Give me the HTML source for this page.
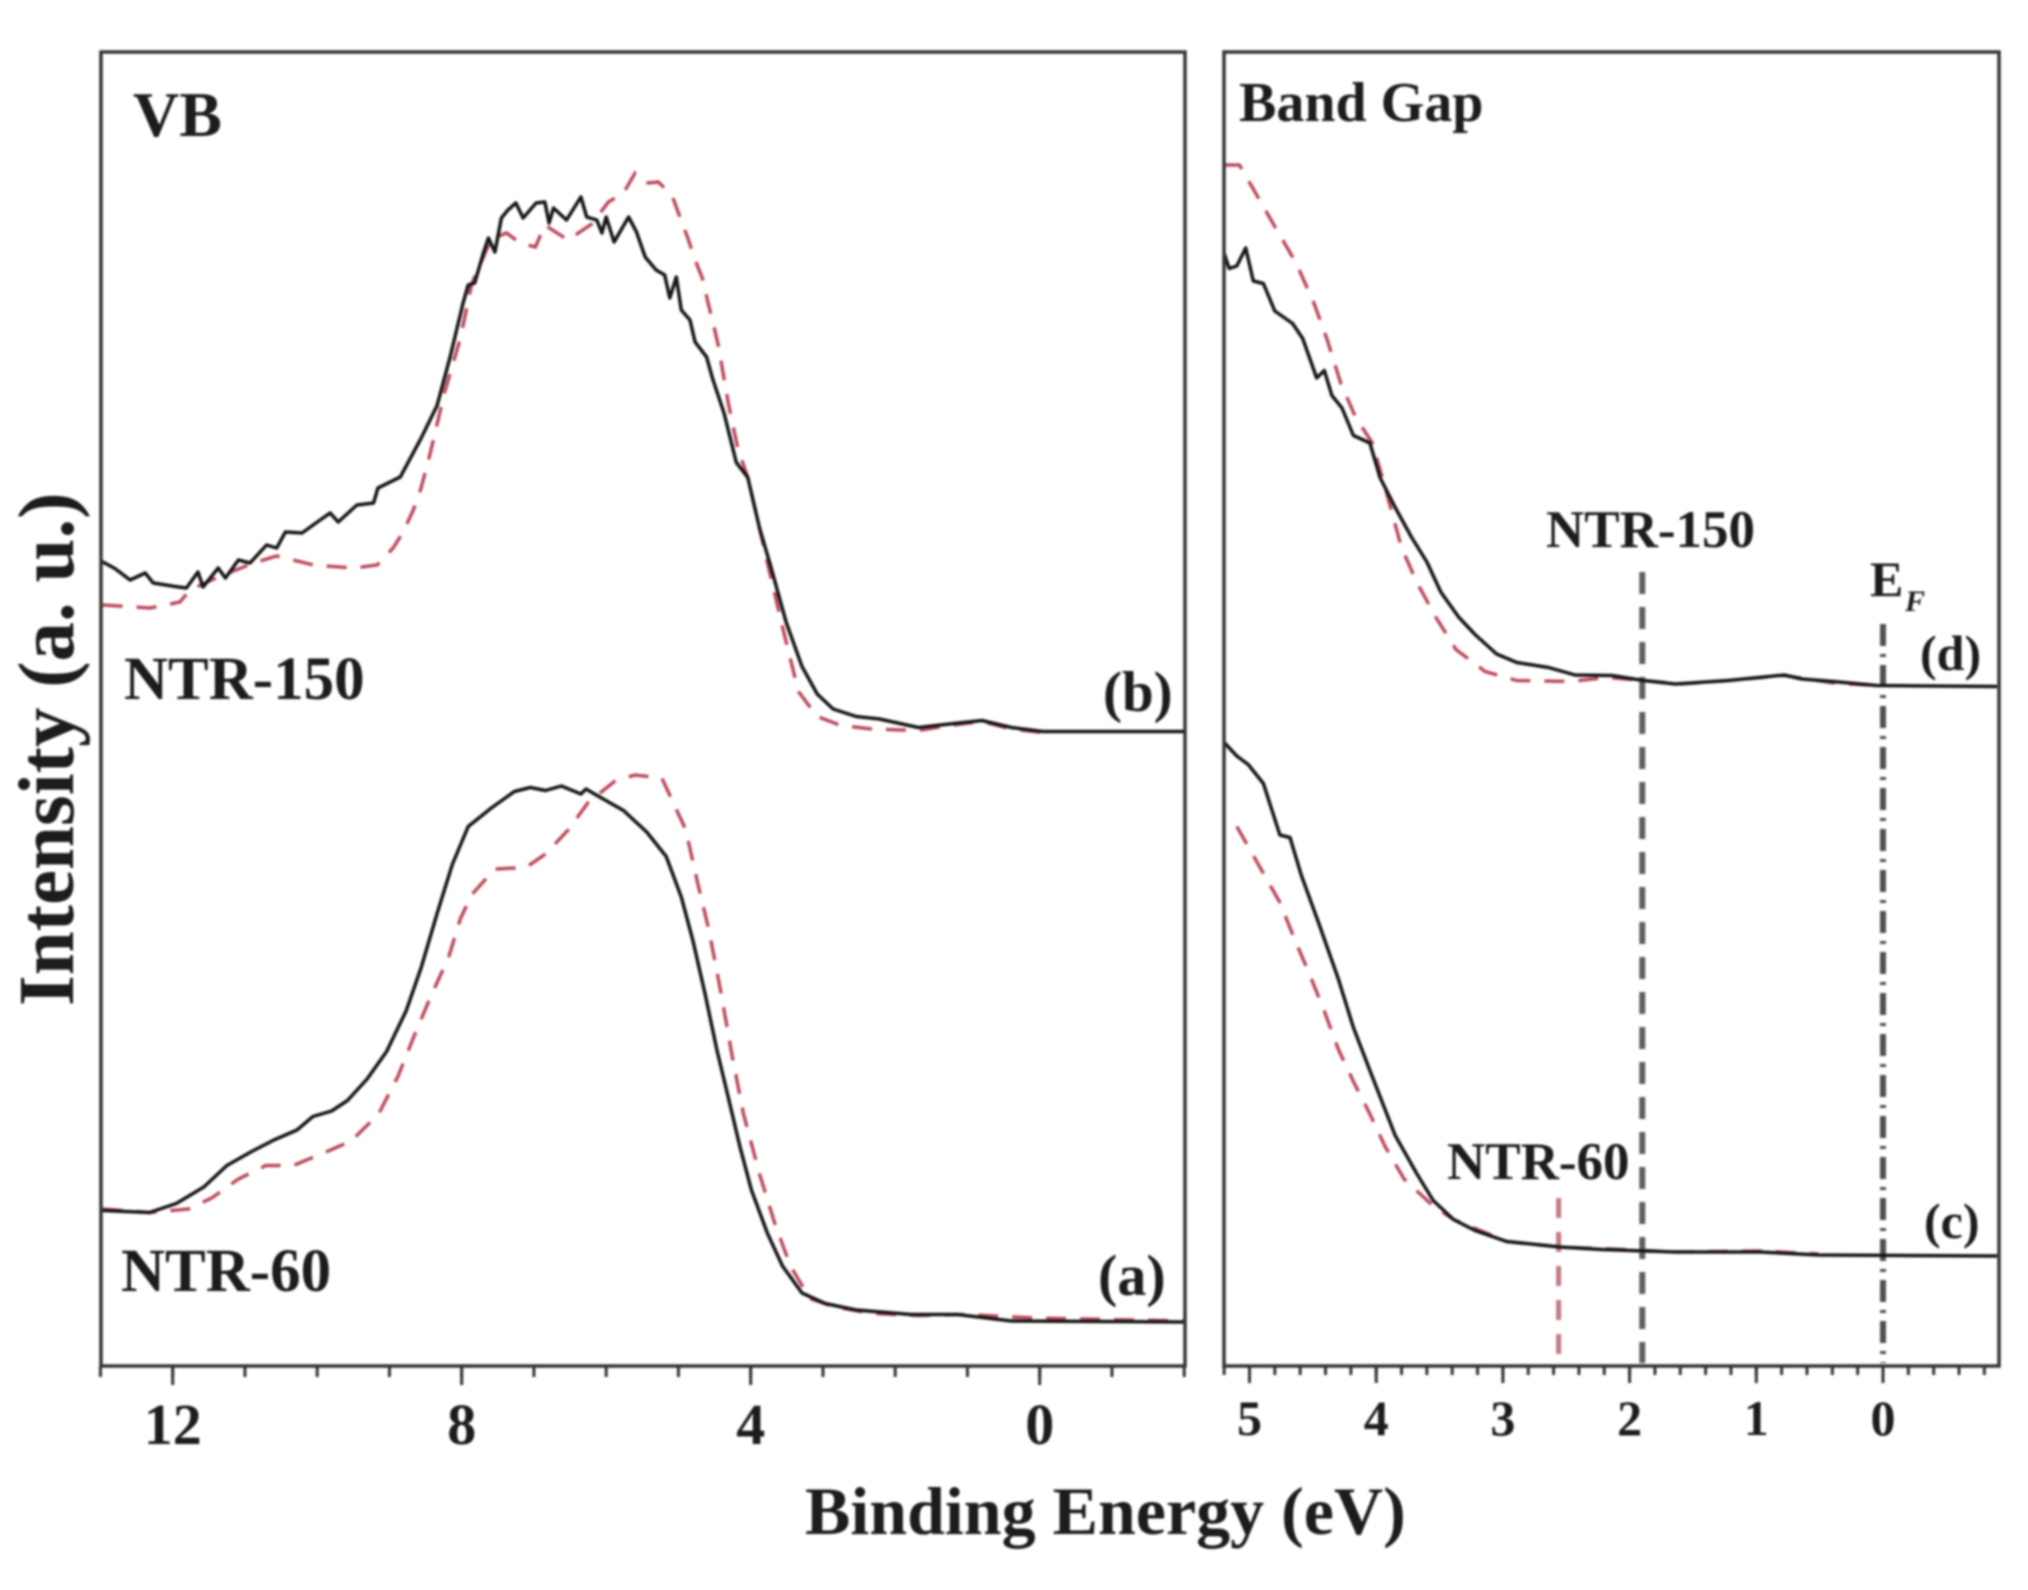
<!DOCTYPE html>
<html lang="en">
<head>
<meta charset="utf-8">
<title>Valence band and band gap spectra</title>
<style>
html,body{margin:0;padding:0;background:#fff;}
svg{display:block;filter:blur(1.1px);}
text{font-family:"Liberation Serif",serif;font-weight:bold;fill:#1c1c1c;}
.frame{fill:none;stroke:#333;stroke-width:3.5;}
.solid{fill:none;stroke:#151515;stroke-width:3.5;stroke-linejoin:round;}
.dash{fill:none;stroke:#bd4c5c;stroke-width:3.5;stroke-dasharray:20 14;}
.tick{stroke:#333;stroke-width:3;}
</style>
</head>
<body>
<svg id="chart" xmlns="http://www.w3.org/2000/svg" width="2028" height="1590" viewBox="0 0 2028 1590">
  <rect x="0" y="0" width="2028" height="1590" fill="#fff"/>
  <g id="marks"></g>
  <rect class="frame" x="101" y="52" width="1084" height="1314"/>
  <rect class="frame" x="1224" y="52" width="775" height="1314"/>
  <g id="axes"></g>

  <text x="133" y="136" font-size="64">VB</text>
  <text x="124" y="699" font-size="61">NTR-150</text>
  <text x="121" y="1291" font-size="61">NTR-60</text>
  <text x="1103" y="711" font-size="57">(b)</text>
  <text x="1098" y="1295" font-size="58">(a)</text>

  <text x="1239" y="121" font-size="56">Band Gap</text>
  <text x="1546" y="547" font-size="53">NTR-150</text>
  <text x="1447" y="1179" font-size="53">NTR-60</text>
  <text x="1870" y="596" font-size="50">E</text>
  <text x="1905" y="611" font-size="30" font-style="italic">F</text>
  <text x="1920" y="670" font-size="50">(d)</text>
  <text x="1924" y="1238" font-size="50">(c)</text>

  <text x="805" y="1534" font-size="68">Binding Energy (eV)</text>
  <text transform="translate(73,1006) rotate(-90)" font-size="79">Intensity (a. u.)</text>
</svg>
<script>
// Panel (b): NTR-150 valence band, measured (solid)
const vbEnergyBSolid = [12.98,12.8,12.59,12.38,12.27,11.92,11.81,11.65,11.58,11.37,11.27,11.09,10.93,10.7,10.56,10.44,10.21,9.96,9.82,9.71,9.45,9.22,9.16,8.85,8.56,8.34,8.16,7.98,7.91,7.82,7.7,7.63,7.54,7.45,7.36,7.25,7.15,6.97,6.85,6.79,6.73,6.55,6.35,6.27,6.13,6.06,6,5.89,5.69,5.58,5.46,5.31,5.19,5.12,5.03,4.96,4.84,4.77,4.61,4.53,4.37,4.2,4.04,3.88,3.72,3.51,3.29,3.08,2.86,2.54,2.22,1.68,1.25,0.8,0.39,-0.04,-2.01];
const vbIntensityBSolid = [160.9,159.5,157.2,158.6,156.6,155.8,155.6,158.8,155.8,159.6,157.6,161.2,160.6,164.2,163.6,166.8,166.6,169.2,170.6,168.8,172.2,172.6,175.6,177.8,185.6,192.1,201.8,212.6,216.2,216.6,222.6,225.6,222.8,229.6,231.2,232.6,229.6,232.6,232.8,228.6,231.6,229.2,233.8,229.8,229.2,226.6,229.8,224.8,229.8,226.8,221.8,219.2,218.2,213.6,217.8,211.2,209.2,204.8,201.8,197.6,190.6,180.7,177.7,167.7,159.8,148.8,139.9,134.4,131.4,129.9,129.4,127.7,128.4,129.1,127.7,126.9,126.9];
// Panel (b): NTR-150 valence band, reference (dashed)
const vbEnergyBDash = [12.97,12.31,11.9,11.76,11.4,10.9,10.56,10.05,9.5,9.17,8.95,8.81,8.67,8.57,8.45,8.24,8.02,7.86,7.59,7.38,7.19,6.98,6.85,6.53,6.2,5.97,5.76,5.6,5.42,5.28,5.09,4.98,4.87,4.77,4.67,4.59,4.52,4.45,4.31,4.18,4.04,3.77,3.56,3.34,3.08,2.75,2.32,1.68,1.25,0.8,0.39,-0.04];
const vbIntensityBDash = [152.2,151.6,152.8,155.2,157.6,160.5,162,160.2,159.6,160.2,163.6,166.8,171.2,175.2,181.7,194.6,205.5,216.5,225.4,226.6,224.6,223.8,228.2,225.2,228.4,232.8,234.6,238.6,236.6,236.8,234.2,229.8,225.6,221.2,217.6,212.6,208.6,204.2,192.6,183.6,177.7,160.8,147.8,134.9,129.9,128.1,127.4,127.1,128.1,128.9,127.4,126.7];
// Panel (a): NTR-60 valence band, measured (solid)
const vbEnergyASolid = [12.97,12.32,11.95,11.57,11.25,10.92,10.6,10.28,10.06,9.8,9.58,9.31,9.04,8.77,8.56,8.34,8.13,7.91,7.59,7.27,7.05,6.84,6.62,6.35,6.28,6.09,5.76,5.44,5.17,4.96,4.8,4.63,4.47,4.31,4.15,3.99,3.77,3.56,3.29,2.97,2.54,1.78,1.14,0.39,-2.01];
const vbIntensityASolid = [31.1,30.7,32.5,35.8,40.1,42.8,45.2,47.2,49.9,51,53.1,57.4,62.9,71,79.7,90.5,100.3,107.9,111.6,114.9,115.7,115.1,116,114.4,115.4,113.8,111.1,106.8,101.9,93.8,85.1,74.3,63.4,53.7,43.9,35.2,26.6,20,14.6,12.5,11.2,10.3,10.3,9,8.8];
// Panel (a): NTR-60 valence band, reference (dashed)
const vbEnergyADash = [12.97,12.32,11.78,11.46,11.09,10.71,10.33,9.96,9.53,9.15,8.88,8.67,8.45,8.18,8.02,7.86,7.54,7.11,6.84,6.52,6.25,5.87,5.6,5.23,4.9,4.74,4.58,4.42,4.26,4.1,3.88,3.67,3.45,3.18,2.86,2.32,1.68,1.03,0.06,-2.01];
const vbIntensityADash = [31.4,30.7,31.4,33.6,37.4,40.1,40.1,42.3,45,50.4,58,65.6,73.2,81.8,89.4,94.3,99.4,99.7,102.4,107.3,112.7,117.1,118.2,117.6,107.3,97,87.3,75.3,62.3,50.4,38.5,28.7,20,13.5,11.9,10.5,10.1,10.3,9.6,9];
// Panel (d): NTR-150 band gap, measured (solid)
const gapEnergyDSolid = [5.2,5.16,5.1,5.03,4.97,4.89,4.8,4.66,4.58,4.47,4.41,4.35,4.27,4.18,4.05,3.97,3.85,3.72,3.6,3.49,3.35,3.22,3.05,2.89,2.64,2.43,2.14,1.89,1.64,1.22,0.78,0.64,0.39,0.05,-0.9];
const gapIntensityDSolid = [222.5,219.5,220,223.6,217,216.5,211,208.5,205.5,197.6,199.1,194.1,191.6,186.1,184.6,177.7,171.7,165.7,160.8,154.8,149.8,146.3,142.4,140.7,139.7,138.2,138.1,137.1,136.4,137.1,138.2,137.4,136.9,136.1,135.9];
// Panel (d): NTR-150 band gap, reference (dashed)
const gapEnergyDDash = [5.2,5.08,4.97,4.8,4.63,4.49,4.39,4.28,4.16,4.03,3.93,3.8,3.68,3.53,3.37,3.14,2.89,2.47,2.18,1.89,1.6,1.22,0.78,0.39,0.05];
const gapIntensityDDash = [240.2,240.2,235.4,227.9,220.5,212.5,205.5,196.6,189.6,184.6,175.7,163.7,156.8,149.8,143.3,138.9,137.1,136.9,137.7,137.1,136.4,137.1,138.1,136.6,136.1];
// Panel (c): NTR-60 band gap, measured (solid)
const gapEnergyCSolid = [5.2,5.1,5.01,4.89,4.76,4.68,4.59,4.45,4.3,4.18,4.05,3.85,3.68,3.55,3.39,3.22,2.97,2.55,2.22,1.64,0.97,0.51,-0.9];
const gapIntensityCSolid = [124.7,122,120.3,116.5,106.2,105.7,98.1,88.3,77.5,67.7,59.1,46.1,38.5,33.1,29.3,27.1,24.9,23.8,23.3,22.8,22.8,22.2,22];
// Panel (c): NTR-60 band gap, reference (dashed)
const gapEnergyCDash = [5.1,4.93,4.76,4.64,4.53,4.41,4.3,4.18,4.05,3.93,3.78,3.55,3.39,2.97,2.55,2.05,1.64,0.97,0.51];
const gapIntensityCDash = [107.9,100.3,92.7,85.1,78.6,71,63.4,56.9,50.4,43.9,37.4,32,29.3,24.9,23.8,23.3,22.8,23,22.4];
// Axis tick values (eV)
const vbTickLabels = [12,8,4,0];
const vbMinorTicks = [13,12,11,10,9,8,7,6,5,4,3,2,1,0,-1,-2];
const gapTickLabels = [5,4,3,2,1,0];
const gapMinorTicks = [5.2,5,4.8,4.6,4.4,4.2,4,3.8,3.6,3.4,3.2,3,2.8,2.6,2.4,2.2,2,1.8,1.6,1.4,1.2,1,0.8,0.6,0.4,0.2,0,-0.2,-0.4,-0.6,-0.8];
// Band-edge markers (eV)
const edgeNtr150 = 1.9;
const edgeNtr60 = 2.56;
const fermiLevel = 0;

const SVGNS = 'http://www.w3.org/2000/svg';
const marks = document.getElementById('marks');
const axes = document.getElementById('axes');
const axisBottom = 1366;
const xVB = function (e) { return 1039.7 - 72.25 * e; };
const xGap = function (e) { return 1883 - 126.7 * e; };
const yI = function (v) { return axisBottom - 5 * v; };

function drawSeries(xFn, energies, values, cls, name) {
  const el = document.createElementNS(SVGNS, 'polyline');
  el.setAttribute('class', cls);
  el.setAttribute('points', energies.map(function (e, i) { return xFn(e).toFixed(1) + ',' + yI(values[i]).toFixed(1); }).join(' '));
  
  
  marks.appendChild(el);
}

function drawMarker(e, top, stroke, width, dash, name) {
  const el = document.createElementNS(SVGNS, 'line');
  el.setAttribute('x1', xGap(e));
  el.setAttribute('x2', xGap(e));
  el.setAttribute('y1', top);
  el.setAttribute('y2', axisBottom - 3);
  el.setAttribute('stroke', stroke);
  el.setAttribute('stroke-width', width);
  el.setAttribute('stroke-dasharray', dash);
  
  
  marks.appendChild(el);
}

function drawTicks(xFn, values, len, name) {
  values.forEach(function (e) {
    const el = document.createElementNS(SVGNS, 'line');
    el.setAttribute('class', 'tick');
    el.setAttribute('x1', xFn(e));
    el.setAttribute('x2', xFn(e));
    el.setAttribute('y1', axisBottom);
    el.setAttribute('y2', axisBottom + len);
    
    
    axes.appendChild(el);
  });
}

function drawTickLabels(xFn, values, size, baseline, name) {
  values.forEach(function (e) {
    const el = document.createElementNS(SVGNS, 'text');
    el.setAttribute('x', xFn(e));
    el.setAttribute('y', baseline);
    el.setAttribute('font-size', size);
    el.setAttribute('text-anchor', 'middle');
    el.textContent = String(e);
    
    
    axes.appendChild(el);
  });
}

drawMarker(edgeNtr150, 572, '#606060', 6, '22 13', 'ntr-150-band-edge-line');
drawMarker(edgeNtr60, 1198, '#c27a84', 5, '20 14', 'ntr-60-band-edge-line');
drawMarker(fermiLevel, 624, '#505050', 6, '22 8 3 8', 'fermi-level-line');

drawSeries(xVB, vbEnergyBDash, vbIntensityBDash, 'dash', 'series-b-dashed');
drawSeries(xVB, vbEnergyBSolid, vbIntensityBSolid, 'solid', 'series-b-solid');
drawSeries(xVB, vbEnergyADash, vbIntensityADash, 'dash', 'series-a-dashed');
drawSeries(xVB, vbEnergyASolid, vbIntensityASolid, 'solid', 'series-a-solid');
drawSeries(xGap, gapEnergyDDash, gapIntensityDDash, 'dash', 'series-d-dashed');
drawSeries(xGap, gapEnergyDSolid, gapIntensityDSolid, 'solid', 'series-d-solid');
drawSeries(xGap, gapEnergyCDash, gapIntensityCDash, 'dash', 'series-c-dashed');
drawSeries(xGap, gapEnergyCSolid, gapIntensityCSolid, 'solid', 'series-c-solid');

drawTicks(xVB, vbMinorTicks, 11, 'vb-minor-tick');
drawTicks(xVB, vbTickLabels, 19, 'vb-major-tick');
drawTicks(xGap, gapMinorTicks, 9, 'gap-minor-tick');
drawTicks(xGap, gapTickLabels, 17, 'gap-major-tick');
drawTickLabels(xVB, vbTickLabels, 58, 1444, 'vb-tick-label');
drawTickLabels(xGap, gapTickLabels, 50, 1435, 'gap-tick-label');
</script>
</body>
</html>
